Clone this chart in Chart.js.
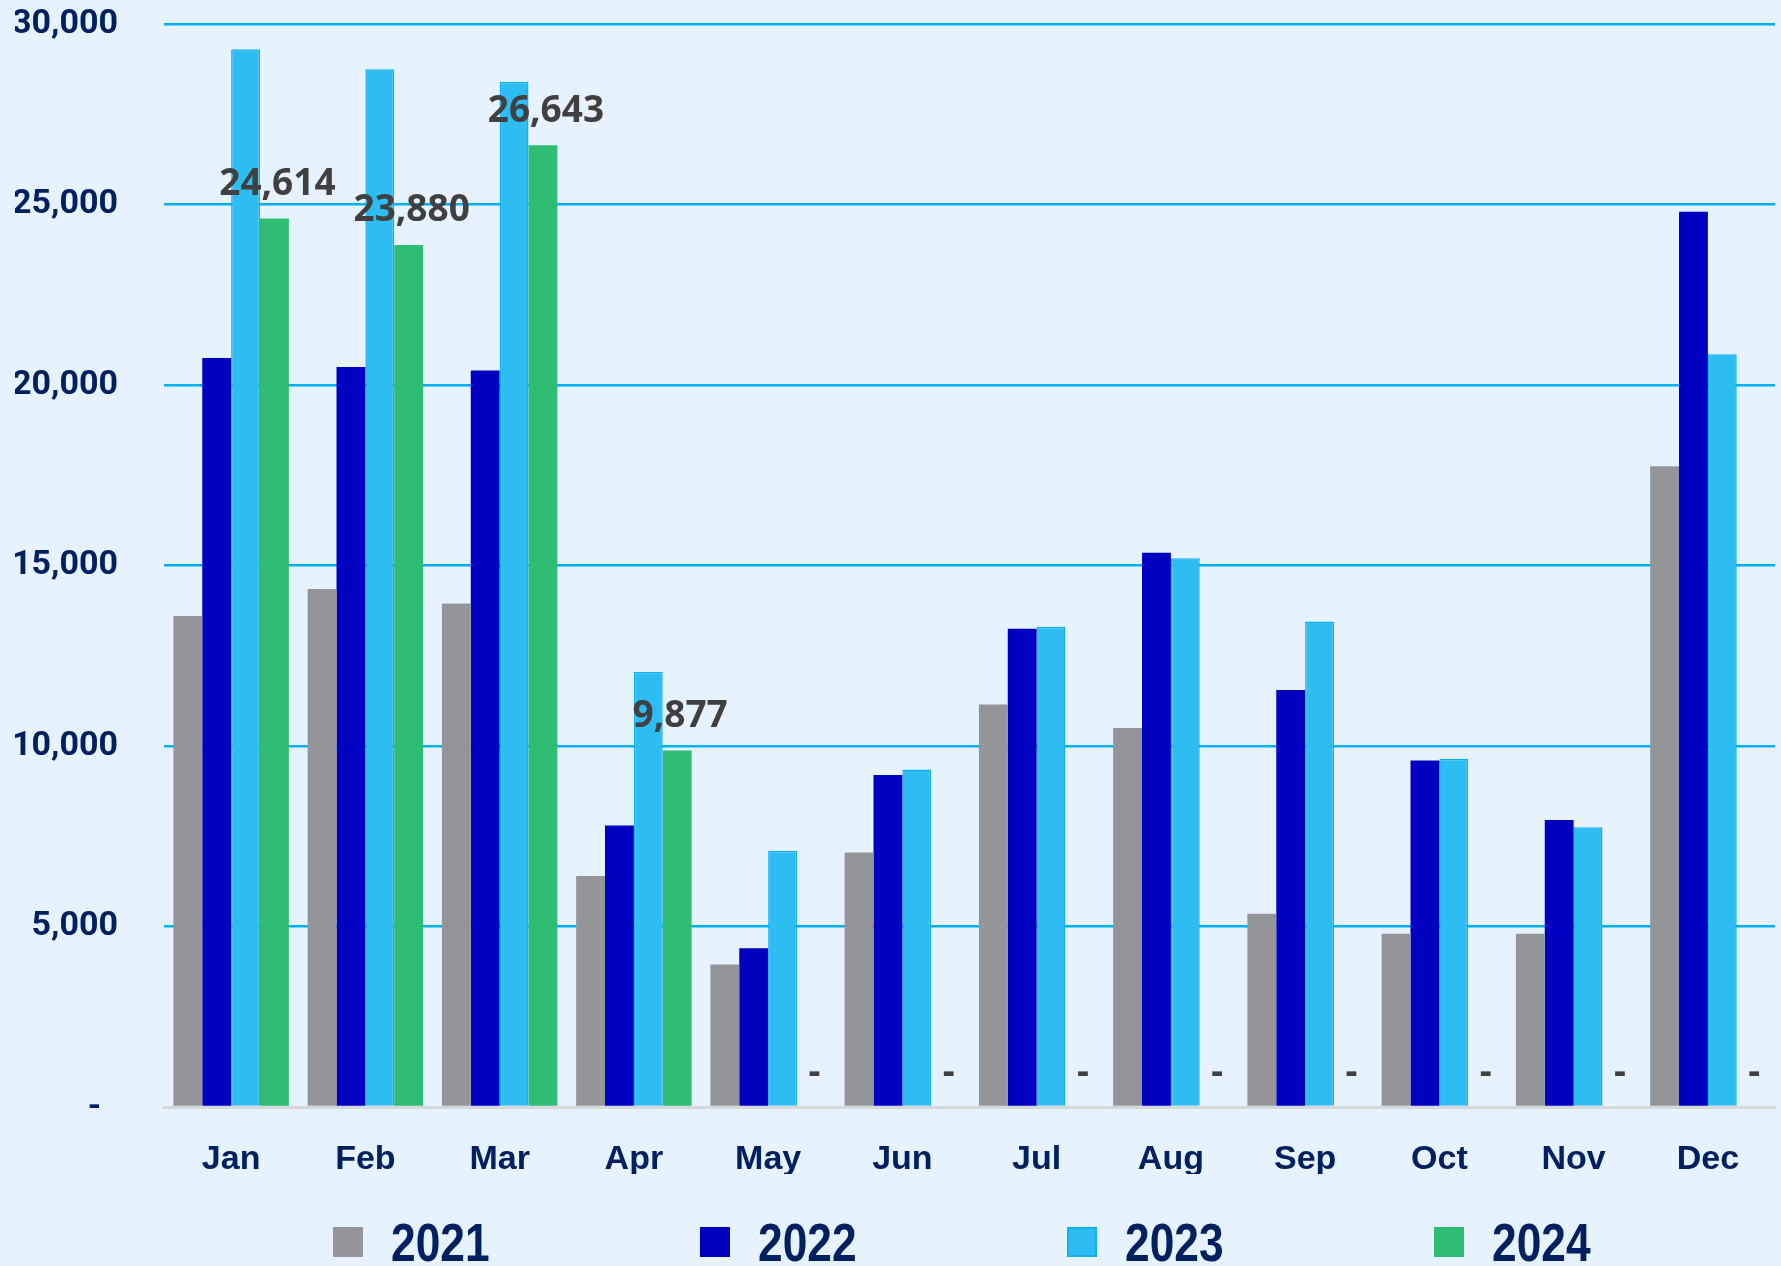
<!DOCTYPE html>
<html>
<head>
<meta charset="utf-8">
<script src="https://cdn.jsdelivr.net/npm/chart.js@4/dist/chart.umd.min.js"></script>
<style>
  html, body { margin: 0; padding: 0; background: #E6F2FE; }
  #wrap { position: absolute; left: 0; top: 0; width: 1781px; height: 1190px; }
  #legend { position: absolute; left: 333px; top: 1212px; display: flex;
    font: bold 54px 'Liberation Sans', Arial, sans-serif; color: #002060; line-height: 60px; }
  #legend .item { width: 367px; height: 60px; display: flex; align-items: center; }
  #legend .box { width: 30px; height: 30px; margin-right: 28px; box-sizing: border-box; flex: none; }
  #legend .txt { display: inline-block; transform: scaleX(0.82); transform-origin: left center; }
</style>
</head>
<body>
<div id="wrap"><canvas id="graph"></canvas></div>
<div id="legend"></div>
<script>
var months = ['Jan', 'Feb', 'Mar', 'Apr', 'May', 'Jun', 'Jul', 'Aug', 'Sep', 'Oct', 'Nov', 'Dec'];
var years = ['2021', '2022', '2023', '2024'];

var sales2021 = [13600, 14350, 13950, 6400, 3950, 7050, 11150, 10500, 5350, 4800, 4800, 17750];
var sales2022 = [20750, 20500, 20400, 7800, 4400, 9200, 13250, 15350, 11550, 9600, 7950, 24800];
var sales2023 = [29300, 28750, 28400, 12050, 7100, 9350, 13300, 15200, 13450, 9650, 7750, 20850];
var sales2024 = [24614, 23880, 26643, 9877, 0, 0, 0, 0, 0, 0, 0, 0];

var yTicks = [0, 5000, 10000, 15000, 20000, 25000, 30000];

var colors = {
  grey: '#939598',
  navy: '#0000C0',
  sky: '#2EBDF2',
  green: '#2EBD72'
};
var borders = [colors.grey, colors.navy, '#12B1EE', colors.green];

// 2024 value labels, "-" for months with no data yet
var valueLabels = {
  id: 'valueLabels',
  afterDraw: function (chart) {
    var ctx = chart.ctx;
    var meta = chart.getDatasetMeta(3);
    ctx.save();
    ctx.font = 'bold 37px "Open Sans"';
    ctx.fillStyle = '#404040';
    ctx.textAlign = 'center';
    ctx.textBaseline = 'middle';
    meta.data.forEach(function (bar, i) {
      var v = sales2024[i];
      var txt = v ? v.toLocaleString('en-US') : '-';
      ctx.fillText(txt, bar.x + 3, bar.y - 34);
    });
    ctx.restore();
  }
};

var seriesData = [sales2021, sales2022, sales2023, sales2024];
var fills = [colors.grey, colors.navy, colors.sky, colors.green];

var config = {
  type: 'bar',
  data: {
    labels: months,
    datasets: years.map(function (y, i) {
      return {
        label: y,
        data: seriesData[i],
        backgroundColor: fills[i],
        borderColor: borders[i],
        borderWidth: i === 2 ? 1.5 : 0,
        barPercentage: 1.0,
        categoryPercentage: 0.86
      };
    })
  },
  options: {
    responsive: true,
    maintainAspectRatio: false,
    animation: false,
    layout: { padding: { left: 15, right: 6, top: 0, bottom: 16 } },
    plugins: {
      legend: { display: false },
      tooltip: { enabled: false }
    },
    scales: {
      x: {
        grid: { display: false, drawTicks: false },
        border: { display: true, color: '#D6D9DC', width: 3 },
        afterFit: function (axis) { axis.height = 67; },
        ticks: {
          color: '#002060',
          padding: 32,
          font: { family: "'Liberation Sans', Arial, sans-serif", size: 34, weight: 'bold' }
        }
      },
      y: {
        min: 0,
        max: 30000,
        z: 1,
        afterBuildTicks: function (axis) {
          axis.ticks = yTicks.map(function (v) { return { value: v }; });
        },
        afterFit: function (axis) {
          axis.width = 149;
          axis.paddingTop = 24;
          axis.paddingBottom = 0;
        },
        grid: {
          drawTicks: false,
          lineWidth: 2.5,
          color: function (c) { return c.tick && c.tick.value === 0 ? 'rgba(0,0,0,0)' : '#00B0F0'; }
        },
        border: { display: false },
        ticks: {
          color: '#002060',
          padding: 46,
          font: { family: 'Roboto', size: 34, weight: 'bold' },
          callback: function (v) { return v === 0 ? '-  ' : v.toLocaleString('en-US'); }
        }
      }
    }
  },
  plugins: [valueLabels]
};

var myBarChart = new Chart(document.getElementById('graph'), config);

// legend below the chart
var legend = document.getElementById('legend');
years.forEach(function (y, i) {
  var item = document.createElement('div');
  item.className = 'item';
  var box = document.createElement('span');
  box.className = 'box';
  box.style.background = fills[i];
  if (i === 2) box.style.border = '2px solid #12B1EE';
  var txt = document.createElement('span');
  txt.className = 'txt';
  txt.textContent = y;
  item.appendChild(box);
  item.appendChild(txt);
  legend.appendChild(item);
});
</script>
</body>
</html>
